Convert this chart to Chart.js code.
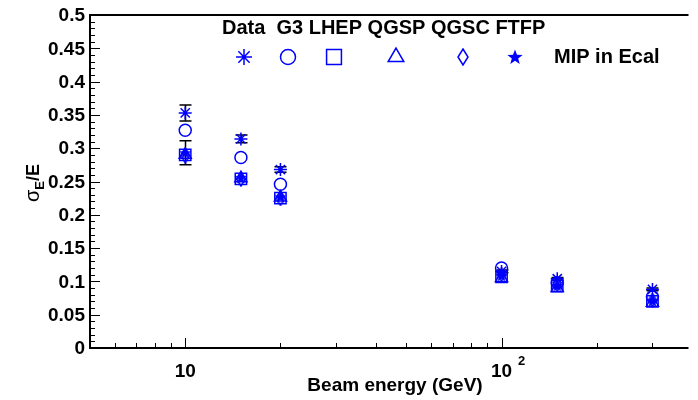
<!DOCTYPE html>
<html>
<head>
<meta charset="utf-8">
<script src="https://cdn.jsdelivr.net/npm/chart.js@4.4.1/dist/chart.umd.min.js"></script>
<style>
  html, body { margin: 0; padding: 0; background: #fff; }
  #wrap { width: 698px; height: 400px; }
</style>
</head>
<body>
<div id="wrap"><canvas id="chart" width="698" height="400"></canvas></div>
<script>
// beam energies (GeV) and sigma_E/E per sample
const energies = [10, 15, 20, 100, 150, 300];
const dataVals = [0.353, 0.314, 0.268, 0.115, 0.104, 0.088];
const dataErrs = [0.012, 0.006, 0.004, 0.002, 0.002, 0.002];
const g3Vals   = [0.327, 0.286, 0.246, 0.120, 0.098, 0.077];
const lhepVals = [0.290, 0.254, 0.225, 0.107, 0.093, 0.070];
const qgspVals = [0.290, 0.255, 0.226, 0.105, 0.090, 0.068];
const qgscVals = [0.288, 0.253, 0.224, 0.110, 0.095, 0.072];
const ftfpVals = [0.293, 0.256, 0.227, 0.109, 0.094, 0.071];
const ftfpErrs = [0.018, 0, 0, 0, 0, 0];

const yTickLabels = ['0', '0.05', '0.1', '0.15', '0.2', '0.25', '0.3', '0.35', '0.4', '0.45', '0.5'];
const xMajorTicks = [10, 100];
const xMinorTicks = [6, 7, 8, 9, 20, 30, 40, 50, 60, 70, 80, 90, 200, 300];
const legendNames = ['Data', 'G3', 'LHEP', 'QGSP', 'QGSC', 'FTFP'];
const noteText = 'MIP in Ecal';

const BLUE = '#0000ff';
const FONT = '"Liberation Sans", Arial, sans-serif';

function toPoints(vals) {
    return energies.map((e, i) => ({ x: e, y: vals[i] }));
}

// filled five point star
function makeStar(size) {
    const c = document.createElement('canvas');
    c.width = c.height = size;
    const g = c.getContext('2d');
    const r = size / 2, ri = r * 0.42;
    g.fillStyle = BLUE;
    g.beginPath();
    for (let i = 0; i < 10; i++) {
        const a = -Math.PI / 2 + i * Math.PI / 5;
        const rr = i % 2 ? ri : r;
        g.lineTo(r + rr * Math.cos(a), r + rr * Math.sin(a) + 0.5);
    }
    g.closePath();
    g.fill();
    return c;
}

// narrow open diamond
function makeDiamond(w, h) {
    const c = document.createElement('canvas');
    c.width = w + 2; c.height = h + 2;
    const g = c.getContext('2d');
    g.strokeStyle = BLUE;
    g.lineWidth = 1.5;
    g.beginPath();
    g.moveTo(1 + w / 2, 1);
    g.lineTo(1 + w, 1 + h / 2);
    g.lineTo(1 + w / 2, 1 + h);
    g.lineTo(1, 1 + h / 2);
    g.closePath();
    g.stroke();
    return c;
}

const starSmall = makeStar(13), starBig = makeStar(16);
const diaSmall = makeDiamond(8, 13), diaBig = makeDiamond(10, 16);

function series(label, vals, style, radius) {
    return {
        label: label,
        data: toPoints(vals),
        pointStyle: style,
        pointRadius: radius,
        pointHoverRadius: radius,
        borderColor: BLUE,
        backgroundColor: 'rgba(0,0,0,0)',
        pointBorderWidth: 1.5,
        showLine: false
    };
}

// first dataset ends up on top
const datasets = [
    series('Data', dataVals, 'star', 6.5),
    series('G3', g3Vals, 'circle', 6),
    series('FTFP', ftfpVals, starSmall, 6),
    series('QGSC', qgscVals, diaSmall, 6),
    series('QGSP', qgspVals, 'triangle', 7),
    series('LHEP', lhepVals, 'rect', 8)
];

const errorBars = [
    { vals: dataVals, errs: dataErrs },
    { vals: ftfpVals, errs: ftfpErrs }
];

const errorPlugin = {
    id: 'errors',
    beforeDatasetsDraw(chart) {
        const { ctx, scales: { x, y } } = chart;
        ctx.save();
        ctx.strokeStyle = '#000';
        ctx.lineWidth = 1.5;
        errorBars.forEach(s => {
            energies.forEach((e, i) => {
                if (!s.errs[i]) return;
                const px = Math.round(x.getPixelForValue(e)) + 0.5;
                const y1 = y.getPixelForValue(s.vals[i] + s.errs[i]);
                const y2 = y.getPixelForValue(s.vals[i] - s.errs[i]);
                ctx.beginPath();
                ctx.moveTo(px, y1); ctx.lineTo(px, y2);
                ctx.moveTo(px - 6, y1); ctx.lineTo(px + 6, y1);
                ctx.moveTo(px - 6, y2); ctx.lineTo(px + 6, y2);
                ctx.stroke();
            });
        });
        ctx.restore();
    }
};

const framePlugin = {
    id: 'frame',
    afterDatasetsDraw(chart) {
        const { ctx, chartArea: a, scales: { x, y } } = chart;
        ctx.save();

        // frame
        ctx.strokeStyle = '#000';
        ctx.lineWidth = 2;
        ctx.beginPath();
        ctx.moveTo(a.left, a.top); ctx.lineTo(a.right, a.top);
        ctx.moveTo(a.left, a.top - 1); ctx.lineTo(a.left, a.bottom + 1);
        ctx.moveTo(a.left, a.bottom); ctx.lineTo(a.right, a.bottom);
        ctx.stroke();

        // y ticks (inside)
        ctx.lineWidth = 1;
        ctx.beginPath();
        for (let k = 0; k <= 50; k++) {
            const py = Math.round(y.getPixelForValue(k / 100)) + 0.5;
            const len = k % 5 === 0 ? 10 : 5;
            ctx.moveTo(a.left, py); ctx.lineTo(a.left + len, py);
        }
        // x ticks (inside)
        xMajorTicks.forEach(v => {
            const px = Math.round(x.getPixelForValue(v)) + 0.5;
            ctx.moveTo(px, a.bottom); ctx.lineTo(px, a.bottom - 10);
        });
        xMinorTicks.forEach(v => {
            const px = Math.round(x.getPixelForValue(v)) + 0.5;
            ctx.moveTo(px, a.bottom); ctx.lineTo(px, a.bottom - 5);
        });
        ctx.stroke();

        // y tick labels
        ctx.fillStyle = '#000';
        ctx.font = 'bold 19px ' + FONT;
        ctx.textAlign = 'right';
        ctx.textBaseline = 'middle';
        yTickLabels.forEach(t => {
            ctx.fillText(t, a.left - 5, y.getPixelForValue(parseFloat(t)) + 1);
        });

        // x tick labels
        ctx.textAlign = 'center';
        ctx.textBaseline = 'alphabetic';
        xMajorTicks.forEach((v, i) => {
            const px = x.getPixelForValue(v);
            ctx.font = 'bold 19px ' + FONT;
            ctx.fillText('10', px, a.bottom + 29);
            if (i > 0) {
                ctx.font = 'bold 13px ' + FONT;
                ctx.fillText(String(Math.round(Math.log10(v))), px + 20, a.bottom + 17);
            }
        });

        // x title
        ctx.font = 'bold 19px ' + FONT;
        ctx.fillText('Beam energy (GeV)', 395, a.bottom + 43);

        // y title
        ctx.save();
        ctx.translate(42, 183);
        ctx.rotate(-Math.PI / 2);
        ctx.textAlign = 'left';
        ctx.font = '20px ' + FONT;
        const sw = ctx.measureText('\u03c3').width;
        ctx.font = 'bold 13px ' + FONT;
        const ew = ctx.measureText('E').width;
        ctx.font = 'bold 18px ' + FONT;
        const tw = ctx.measureText('/E').width;
        let cx = -(sw + ew + tw) / 2;
        ctx.font = '20px ' + FONT;
        ctx.fillText('\u03c3', cx, -3);
        cx += sw;
        ctx.font = 'bold 13px ' + FONT;
        ctx.fillText('E', cx, 2);
        cx += ew;
        ctx.font = 'bold 18px ' + FONT;
        ctx.fillText('/E', cx, -3);
        ctx.restore();

        // legend text
        ctx.font = 'bold 20px ' + FONT;
        ctx.textAlign = 'left';
        ctx.textBaseline = 'middle';
        ctx.fillText(legendNames[0] + '  ' + legendNames.slice(1).join(' '), 222, 28);
        ctx.fillText(noteText, 554, 57);

        // legend markers
        const H = Chart.helpers;
        const lx = [244, 288, 334, 396, 463, 515];
        const styles = [
            { pointStyle: 'star', radius: 8 },
            { pointStyle: 'circle', radius: 7.5 },
            { pointStyle: 'rect', radius: 10.5 },
            { pointStyle: 'triangle', radius: 9 },
            { pointStyle: diaBig, radius: 8 },
            { pointStyle: starBig, radius: 8 }
        ];
        ctx.strokeStyle = BLUE;
        ctx.fillStyle = 'rgba(0,0,0,0)';
        ctx.lineWidth = 1.5;
        styles.forEach((s, i) => {
            H.drawPoint(ctx, { pointStyle: s.pointStyle, radius: s.radius, rotation: 0, borderWidth: 1.5 }, lx[i], 57);
        });

        ctx.restore();
    }
};

new Chart(document.getElementById('chart'), {
    type: 'scatter',
    data: { datasets: datasets },
    options: {
        responsive: false,
        animation: false,
        layout: { padding: { left: 90, top: 15, right: 1, bottom: 52 } },
        scales: {
            x: { type: 'logarithmic', min: 5, max: 390, display: false },
            y: { type: 'linear', min: 0, max: 0.5, display: false }
        },
        plugins: {
            legend: { display: false },
            tooltip: { enabled: false }
        },
        clip: false
    },
    plugins: [errorPlugin, framePlugin]
});
</script>
</body>
</html>
